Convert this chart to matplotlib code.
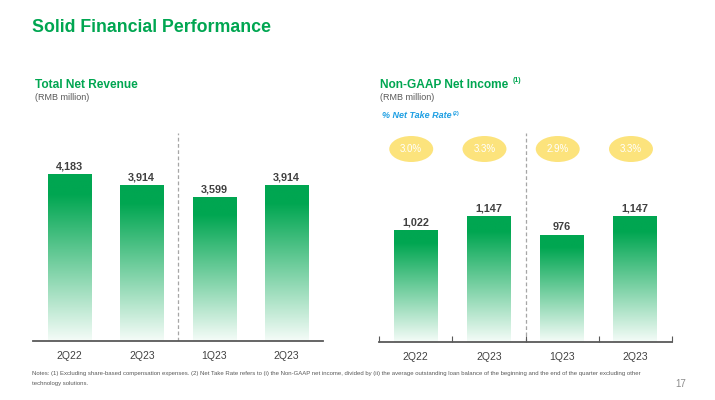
import matplotlib
matplotlib.use("Agg")
import matplotlib.pyplot as plt
import numpy as np
from matplotlib.patches import Ellipse
from matplotlib.colors import LinearSegmentedColormap

plt.rcParams['font.family'] = ['Liberation Sans', 'DejaVu Sans']

# data
quarters = ['2Q22', '2Q23', '1Q23', '2Q23']
revenue = [4183, 3914, 3599, 3914]
net_income = [1022, 1147, 976, 1147]
take_rate = ['3.0%', '3.3%', '2.9%', '3.3%']

GREEN = '#00A651'
DARK = '#404040'
GRAY = '#595959'
YELLOW = '#FCE37C'
BLUE = '#1E9FE3'

W, H = 715, 400
fig = plt.figure(figsize=(W / 100, H / 100), dpi=100)

grad = LinearSegmentedColormap.from_list(
    'g', [(0, '#F5FCF8'), (0.88, GREEN), (1, GREEN)])


def px_axes(x0, x1, y_top, y_bot):
    return fig.add_axes([x0 / W, 1 - y_bot / H, (x1 - x0) / W, (y_bot - y_top) / H])


def draw_panel(ax, values, ymax, labels, ticks=False):
    x = np.arange(len(values))
    bars = ax.bar(x, values, width=0.6, color='none', edgecolor='none')
    g = np.linspace(0, 1, 256).reshape(-1, 1)
    for b in bars:
        x0, y0 = b.get_x(), b.get_y()
        im = ax.imshow(g, cmap=grad, origin='lower', aspect='auto',
                       extent=[x0, x0 + b.get_width(), y0, y0 + b.get_height()],
                       zorder=2)
        im.set_clip_path(b)
    for xi, v in zip(x, values):
        ax.annotate(f'{v:,}', (xi, v), xytext=(0, 2), textcoords='offset points',
                    ha='center', va='bottom', fontsize=7.8, fontweight='bold', color=DARK)
    ax.set_xlim(-0.5, len(values) - 0.5)
    ax.set_ylim(0, ymax)
    ax.axvline(1.5, color='#A6A6A6', lw=0.9, ls=(0, (3, 2)), zorder=1)
    for s in ['top', 'right', 'left']:
        ax.spines[s].set_visible(False)
    ax.spines['bottom'].set_color(GRAY)
    ax.spines['bottom'].set_linewidth(1.3)
    ax.set_yticks([])
    ax.set_xticks(x)
    ax.set_xticklabels(labels, fontsize=7.5, color=DARK)
    ax.tick_params(axis='x', length=0, pad=7)
    if ticks:
        ax.set_xticks(np.arange(-0.5, len(values)), minor=True)
        ax.tick_params(axis='x', which='minor', direction='in', length=4,
                       width=0.8, color=GRAY)
    ax.patch.set_alpha(0)


# left panel: total net revenue
ax1 = px_axes(33, 323, 133, 341)
draw_panel(ax1, revenue, 208 / 0.0399, quarters)

# right panel: non-GAAP net income
ax2 = px_axes(379, 672, 133, 342)
draw_panel(ax2, net_income, 209 / 0.1097, quarters, ticks=True)
ey = 193 / 0.1097
for i, t in enumerate(take_rate):
    ax2.add_patch(Ellipse((i - 0.06, ey), 0.6, 26 / 0.1097, facecolor=YELLOW,
                          edgecolor='none', zorder=3))
    ax2.text(i - 0.06, ey, t, ha='center', va='center', fontsize=7,
             color='white', zorder=4)


def ftext(x, y, s, **kw):
    fig.text(x / W, 1 - y / H, s, **kw)


ftext(32, 28, 'Solid Financial Performance', fontsize=12.8, fontweight='bold',
      color=GREEN, va='center')
ftext(35, 85, 'Total Net Revenue', fontsize=8.6, fontweight='bold',
      color=GREEN, va='center')
ftext(35, 97, '(RMB million)', fontsize=6.5, color=GRAY, va='center')
ftext(380, 85, 'Non-GAAP Net Income', fontsize=8.6, fontweight='bold',
      color=GREEN, va='center')
ftext(513, 81, '(1)', fontsize=5, fontweight='bold', color=GREEN, va='center')
ftext(380, 97, '(RMB million)', fontsize=6.5, color=GRAY, va='center')
ftext(382, 115, '% Net Take Rate', fontsize=6.5, fontweight='bold',
      style='italic', color=BLUE, va='center')
ftext(453, 114, '(2)', fontsize=4, fontweight='bold', color=BLUE, va='center')

ftext(32, 374, 'Notes: (1) Excluding share-based compensation expenses. (2) Net Take Rate '
      'refers to (i) the Non-GAAP net income, divided by (ii) the average outstanding '
      'loan balance of the beginning and the end of the quarter excluding other',
      fontsize=4.3, color=GRAY, va='center')
ftext(32, 383, 'technology solutions.', fontsize=4.3, color=GRAY, va='center')
ftext(686, 384, '17', fontsize=7, color='#8C8C8C', va='center', ha='right')

fig.savefig('out.png', dpi=100)
